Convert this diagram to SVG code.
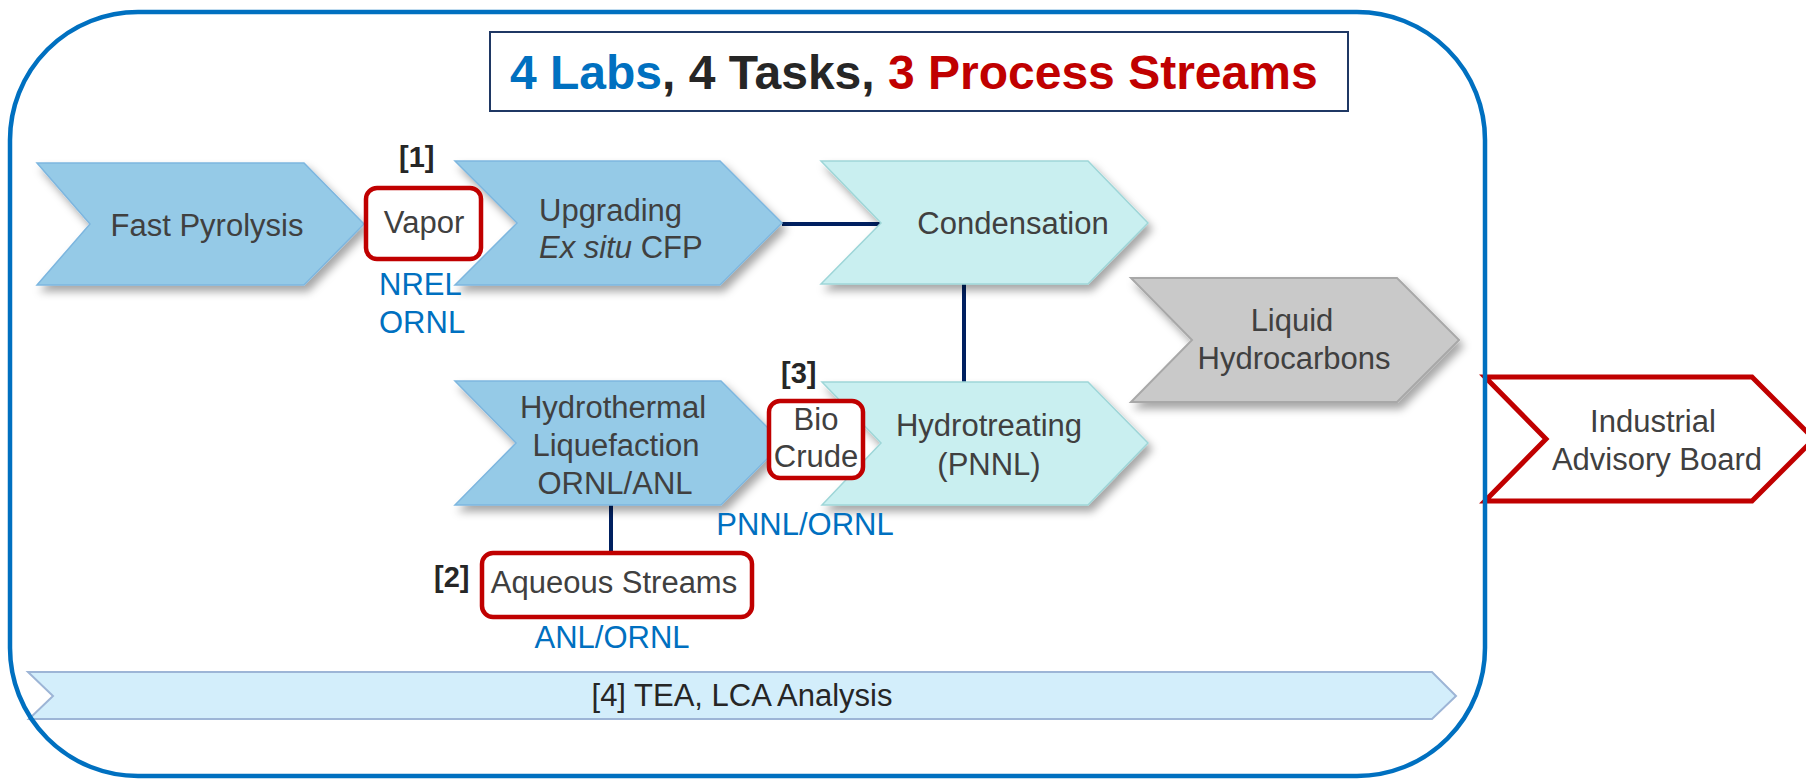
<svg xmlns="http://www.w3.org/2000/svg" width="1806" height="779" viewBox="0 0 1806 779">
<style>
  text { font-family: "Liberation Sans", Arial, sans-serif; }
  .lbl { font-size: 31px; fill: #404040; text-anchor: middle; }
  .lab { font-size: 31px; fill: #0070C0; }
  .num { font-size: 29px; font-weight: bold; fill: #262626; }
  .blue { fill: #95CAE7; stroke: #7DB6DF; stroke-width: 1.5; filter: url(#sh); }
  .cyan { fill: #C9EFF0; stroke: #9ED6D8; stroke-width: 1.5; filter: url(#sh); }
  .gray { fill: #C9C9C9; stroke: #A8A8A8; stroke-width: 2; filter: url(#sh); }
  .redbox { fill: #FFFFFF; stroke: #C00000; stroke-width: 4.5; }
  .conn { stroke: #002060; stroke-width: 4; fill: none; }
</style>
<defs>
  <filter id="sh" x="-10%" y="-10%" width="130%" height="150%">
    <feDropShadow dx="4" dy="6" stdDeviation="4" flood-color="#000000" flood-opacity="0.35"/>
  </filter>
</defs>
<rect width="1806" height="779" fill="#FFFFFF"/>

<g id="title">
  <rect x="490" y="32" width="858" height="79" fill="#FFFFFF" stroke="#1F3864" stroke-width="2"/>
  <text x="510" y="89" font-size="48" font-weight="bold"><tspan fill="#0070C0">4 Labs</tspan><tspan fill="#262626">, 4 Tasks, </tspan><tspan fill="#C00000">3 Process Streams</tspan></text>
</g>

<g id="connectors">
  <line class="conn" x1="782" y1="224" x2="881" y2="224"/>
  <line class="conn" x1="964" y1="284" x2="964" y2="382"/>
  <line class="conn" x1="611" y1="505" x2="611" y2="553"/>
</g>

<g id="fast-pyrolysis">
  <polygon class="blue" points="37,163 304,163 364,224 304,285 37,285 90,224"/>
  <text class="lbl" x="207" y="236">Fast Pyrolysis</text>
</g>

<g id="upgrading">
  <polygon class="blue" points="455,161 720,161 782,223 720,285 455,285 517,223"/>
  <text x="539" y="221" font-size="31" fill="#404040">Upgrading</text>
  <text x="539" y="258" font-size="31" fill="#404040"><tspan font-style="italic">Ex situ</tspan> CFP</text>
</g>

<g id="vapor">
  <rect class="redbox" x="366" y="188" width="115" height="71" rx="11"/>
  <text class="lbl" x="424" y="233">Vapor</text>
  <text class="num" x="399" y="167">[1]</text>
  <text class="lab" x="379" y="295">NREL</text>
  <text class="lab" x="379" y="333">ORNL</text>
</g>

<g id="condensation">
  <polygon class="cyan" points="821,161 1088,161 1148,223 1088,284 821,284 881,223"/>
  <text class="lbl" x="1013" y="234">Condensation</text>
</g>

<g id="liquid-hydrocarbons">
  <polygon class="gray" points="1131,278 1397,278 1459,340 1397,402 1131,402 1192,340"/>
  <text class="lbl" x="1292" y="331">Liquid</text>
  <text class="lbl" x="1294" y="369">Hydrocarbons</text>
</g>

<g id="hydrothermal">
  <polygon class="blue" points="455,381 721,381 783,443 721,505 455,505 516,443"/>
  <text class="lbl" x="613" y="418">Hydrothermal</text>
  <text class="lbl" x="616" y="456">Liquefaction</text>
  <text class="lbl" x="615" y="494">ORNL/ANL</text>
</g>

<g id="hydrotreating">
  <polygon class="cyan" points="822,382 1088,382 1148,443 1088,505 822,505 881,443"/>
  <text class="lbl" x="989" y="436">Hydrotreating</text>
  <text class="lbl" x="989" y="475">(PNNL)</text>
</g>

<g id="bio-crude">
  <rect class="redbox" x="769" y="401" width="94" height="77" rx="11"/>
  <text class="lbl" x="816" y="430">Bio</text>
  <text class="lbl" x="816" y="467">Crude</text>
  <text class="num" x="781" y="383">[3]</text>
  <text class="lab" x="805" y="535" text-anchor="middle">PNNL/ORNL</text>
</g>

<g id="aqueous-streams">
  <rect class="redbox" x="482" y="553" width="270" height="64" rx="11"/>
  <text class="lbl" x="614" y="593">Aqueous Streams</text>
  <text class="num" x="434" y="587">[2]</text>
  <text class="lab" x="612" y="648" text-anchor="middle">ANL/ORNL</text>
</g>

<g id="tea-lca">
  <polygon points="28,672 1432,672 1456,696 1432,719 29,719 53,696" fill="#D3EEFB" stroke="#9DB5D6" stroke-width="2"/>
  <text x="742" y="706" font-size="31" fill="#262626" text-anchor="middle">[4] TEA, LCA Analysis</text>
</g>

<g id="industrial-advisory-board">
  <polygon points="1485,377 1752,377 1814,439 1752,501 1485,501 1546,439" fill="#FFFFFF" stroke="#C00000" stroke-width="5"/>
  <text class="lbl" x="1653" y="432">Industrial</text>
  <text class="lbl" x="1657" y="470">Advisory Board</text>
</g>

<g id="frame">
  <rect x="10" y="12" width="1475" height="764" rx="128" ry="128" fill="none" stroke="#0070C0" stroke-width="4.5"/>
</g>
</svg>
